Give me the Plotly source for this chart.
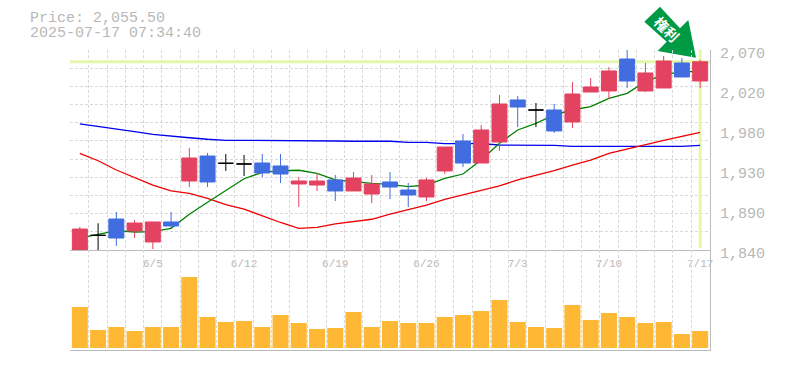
import plotly.graph_objects as go

# ---- data -------------------------------------------------------------
x_index = list(range(35))
tick_index = [4, 9, 14, 19, 24, 29, 34]
tick_labels = ["6/5", "6/12", "6/19", "6/26", "7/3", "7/10", "7/17"]

opens = [1840.0, 1856.8, 1875.5, 1861.8, 1849.2, 1872.1, 1919.0, 1947.6, 1939.3, 1938.5, 1939.6, 1936.2,
         1915.6, 1914.4, 1920.2, 1907.6, 1904.1, 1917.9, 1908.7, 1900.7, 1930.5, 1964.8, 1939.6, 1963.7,
         2011.8, 2000.3, 2000.3, 1986.6, 2020.9, 2022.1, 2058.7, 2022.1, 2025.5, 2054.1, 2033.5]
closes = [1864.0, 1856.8, 1853.7, 1870.9, 1872.1, 1867.5, 1945.3, 1917.9, 1939.3, 1938.5, 1928.2, 1927.0,
          1919.0, 1919.0, 1907.6, 1922.4, 1915.6, 1912.1, 1903.0, 1920.2, 1957.9, 1939.6, 1977.4, 2007.2,
          2003.7, 2000.3, 1976.3, 2018.6, 2026.6, 2045.0, 2033.5, 2042.7, 2056.4, 2038.1, 2055.5]
highs = [1866.3, 1870.6, 1883.5, 1874.4, 1872.1, 1883.5, 1956.8, 1951.1, 1949.9, 1948.8, 1949.9, 1949.9,
         1923.6, 1928.2, 1925.9, 1929.3, 1925.9, 1929.3, 1916.7, 1922.4, 1957.9, 1972.8, 1983.1, 2017.5,
         2016.3, 2008.3, 2007.2, 2032.4, 2036.9, 2049.5, 2069.0, 2054.1, 2062.1, 2059.8, 2057.6]
lows = [1840.0, 1840.0, 1844.6, 1853.7, 1841.1, 1865.2, 1912.1, 1912.1, 1930.5, 1924.7, 1923.6, 1916.7,
        1889.2, 1907.6, 1896.1, 1907.6, 1893.8, 1898.4, 1889.2, 1896.1, 1927.0, 1935.0, 1939.6, 1953.4,
        1980.8, 1980.8, 1974.0, 1979.7, 2020.9, 2012.9, 2025.5, 2020.9, 2025.5, 2038.1, 2025.5]
ma_short = [1853.7, 1858.3, 1862.1, 1860.6, 1861.0, 1864.8, 1880.9, 1894.6, 1907.9, 1921.6, 1929.0, 1930.8,
            1931.3, 1927.8, 1920.2, 1918.2, 1916.4, 1915.2, 1912.5, 1914.4, 1922.1, 1927.0, 1943.0, 1962.2,
            1977.4, 1985.1, 1994.6, 2000.3, 2004.1, 2013.7, 2019.4, 2032.7, 2040.4, 2044.2, 2044.2]
ma_mid = [1950.7, 1942.2, 1931.6, 1922.8, 1914.4, 1907.6, 1904.9, 1899.2, 1891.9, 1886.9, 1878.9, 1871.5,
          1864.8, 1866.0, 1869.8, 1872.9, 1875.2, 1881.2, 1886.6, 1891.5, 1898.1, 1903.0, 1908.4, 1913.3,
          1920.2, 1925.3, 1931.0, 1937.3, 1943.0, 1950.5, 1955.6, 1960.2, 1965.4, 1970.0, 1974.8]
ma_long = [1984.3, 1981.6, 1979.0, 1975.5, 1972.4, 1970.2, 1968.5, 1966.8, 1965.6, 1965.6, 1965.6, 1965.6,
           1965.6, 1965.6, 1964.8, 1964.5, 1964.5, 1964.5, 1963.3, 1963.3, 1961.7, 1961.7, 1961.7, 1960.2,
           1960.2, 1959.9, 1959.9, 1958.7, 1958.7, 1958.7, 1958.7, 1958.7, 1958.7, 1958.7, 1959.9]
volume = [41, 18, 21, 17, 21, 21, 71, 31, 26, 27, 21, 33, 25, 19, 20, 36, 21, 27,
          25, 25, 31, 33, 37, 48, 26, 21, 20, 43, 28, 35, 31, 25, 26, 14, 17]
current_price = 2055.5
price_text = "Price: 2,055.50"
time_text = "2025-07-17 07:34:40"
y_tick_vals = [1840, 1885.8, 1931.6, 1977.4, 2023.2, 2069]
y_tick_labels = ["1,840", "1,890", "1,930", "1,980", "2,020", "2,070"]
marker_text = "権利"

# ---- layout constants ---------------------------------------------------
W, H = 785, 370
L, R, T, B = 70, 710, 50, 350
Y_RANGE = [1840, 2069]
X_RANGE = [-0.54, 34.54]
GRID = "#d9d9d9"
AXIS = "#bbbbbb"
TEXT = "#b8b8b8"
HL = "#e4f6ab"
UP = "#e34260"
DOWN = "#416de0"
MONO = "Liberation Mono, DejaVu Sans Mono, monospace"

def px(x):
    return (x - L) / (R - L)

def py(y):
    return (B - y) / (B - T)

grid_x = [i - 0.5 for i in x_index] + [34.5]
dashed = "3px,2px"

fig = go.Figure()

# highlight lines and moving averages live on the base axes, below the candles
fig.add_trace(go.Scatter(x=X_RANGE, y=[current_price, current_price], mode="lines",
                         line=dict(color=HL, width=3), hoverinfo="skip"))
fig.add_trace(go.Scatter(x=[34, 34], y=[1842.5, 2069], mode="lines",
                         line=dict(color=HL, width=3), hoverinfo="skip"))
fig.add_trace(go.Scatter(x=x_index, y=ma_long, mode="lines", line=dict(color="#0000ee", width=1.3)))
fig.add_trace(go.Scatter(x=x_index, y=ma_mid, mode="lines", line=dict(color="#ee0000", width=1.3)))
fig.add_trace(go.Scatter(x=x_index, y=ma_short, mode="lines", line=dict(color="#008000", width=1.3)))

is_doji = [o == c for o, c in zip(opens, closes)]
def pick(values, keep_doji):
    return [v if d == keep_doji else None for v, d in zip(values, is_doji)]

fig.add_trace(go.Candlestick(
    x=x_index, open=pick(opens, False), high=pick(highs, False), low=pick(lows, False), close=pick(closes, False),
    increasing=dict(line=dict(color=UP, width=1), fillcolor=UP),
    decreasing=dict(line=dict(color=DOWN, width=1), fillcolor=DOWN),
    yaxis="y3", xaxis="x"))
fig.add_trace(go.Candlestick(
    x=x_index, open=pick(opens, True), high=pick(highs, True), low=pick(lows, True), close=pick(closes, True),
    increasing=dict(line=dict(color="#000000", width=1), fillcolor="#000000"),
    decreasing=dict(line=dict(color="#000000", width=1), fillcolor="#000000"),
    yaxis="y3", xaxis="x"))

fig.add_trace(go.Bar(x=x_index, y=volume, width=16 / 18.25, marker=dict(color="#ffb833", line=dict(width=0)),
                     xaxis="x2", yaxis="y2"))

annotations = [
    dict(xref="paper", yref="paper", x=px(28), y=py(18.5), text=price_text, showarrow=False, xanchor="left",
         yanchor="middle", font=dict(family=MONO, size=15, color=TEXT)),
    dict(xref="paper", yref="paper", x=px(28), y=py(33.5), text=time_text, showarrow=False, xanchor="left",
         yanchor="middle", font=dict(family=MONO, size=15, color=TEXT)),
    dict(xref="paper", yref="paper", x=px(667), y=py(29), text=marker_text, showarrow=False, textangle=45,
         xanchor="center", yanchor="middle", font=dict(family="Noto Sans CJK JP", size=14, color="#ffffff", weight=700)),
]
for v, t in zip(y_tick_vals, y_tick_labels):
    annotations.append(dict(xref="paper", yref="y", x=px(718), y=v, yshift=-4, text=t, showarrow=False,
                            xanchor="left", yanchor="middle", font=dict(family=MONO, size=15, color=TEXT)))

arrow = [(660, 6.7), (644.3, 21.7), (666.7, 41.7), (657.7, 51), (696, 57.7), (688.3, 20), (680, 28.3)]
path = "M " + " L ".join(f"{px(a):.4f},{py(b):.4f}" for a, b in arrow) + " Z"

fig.update_layout(
    width=W, height=H, margin=dict(l=L, r=W - R, t=T, b=H - B, pad=0),
    paper_bgcolor="white", plot_bgcolor="white", showlegend=False, boxgap=0.178, boxgroupgap=0,
    annotations=annotations,
    shapes=[dict(type="path", xref="paper", yref="paper", path=path, fillcolor="#009944", line=dict(width=0), layer="below")],
    xaxis=dict(domain=[0, 1], range=X_RANGE, anchor="y", tickmode="array", tickvals=tick_index, ticktext=tick_labels,
               showgrid=False, zeroline=False, showline=True, linecolor=AXIS, linewidth=1, ticks="", ticklen=0,
               ticklabelstandoff=3, ticklabeloverflow="allow",
               tickfont=dict(family=MONO, size=11, color=TEXT), rangeslider=dict(visible=False),
               minor=dict(tickmode="array", tickvals=grid_x, showgrid=True, gridcolor=GRID, griddash=dashed, gridwidth=1, ticks="")),
    xaxis2=dict(domain=[0, 1], range=X_RANGE, anchor="y2", tickmode="array", tickvals=grid_x, showticklabels=False,
                showgrid=True, gridcolor=GRID, griddash=dashed, gridwidth=1, zeroline=False,
                showline=True, linecolor=AXIS, linewidth=1, ticks=""),
    yaxis=dict(domain=[1 / 3, 1], range=Y_RANGE, anchor="x", side="right", tick0=1840, dtick=(Y_RANGE[1] - Y_RANGE[0]) / 11,
               showticklabels=False, showgrid=True, gridcolor=GRID, griddash=dashed, gridwidth=1, zeroline=False,
               showline=True, linecolor=AXIS, linewidth=1, ticks=""),
    yaxis2=dict(domain=[0, 1 / 3], range=[-2, 98], anchor="x2", side="right", showticklabels=False, showgrid=False,
                zeroline=False, showline=True, linecolor=AXIS, linewidth=1, ticks=""),
    yaxis3=dict(range=Y_RANGE, overlaying="y", anchor="x", side="right", visible=False),
)

fig.write_html("out.html", post_script="document.body.style.margin='0';", config=dict(displayModeBar=False))
